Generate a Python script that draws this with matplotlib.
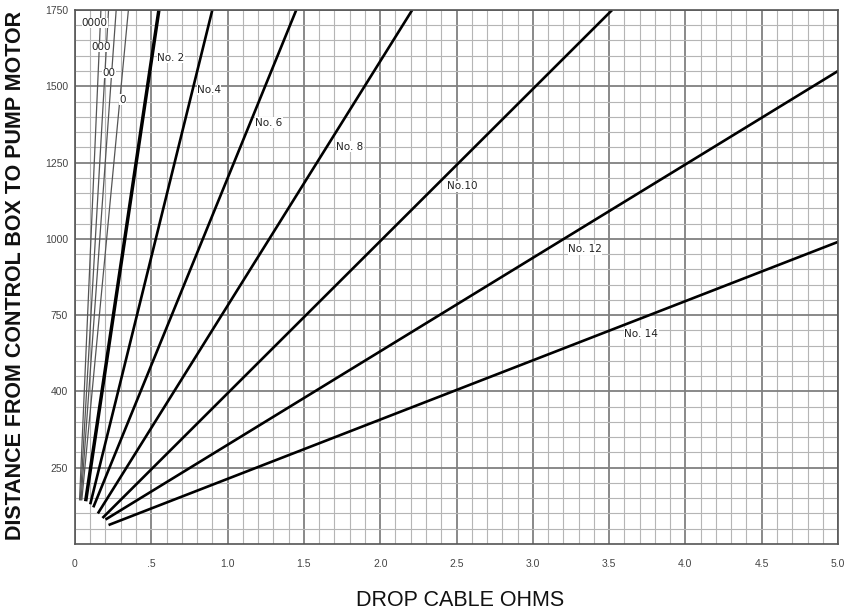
import numpy as np
import matplotlib
matplotlib.use('Agg')
import matplotlib.pyplot as plt
from matplotlib.ticker import MultipleLocator

# wire sizes, start and end points (ohms, feet)
wires = ['0000', '000', '00', '0', 'No. 2', 'No.4', 'No. 6', 'No. 8', 'No.10', 'No. 12', 'No. 14']
x0 = [0.03, 0.035, 0.04, 0.045, 0.07, 0.10, 0.12, 0.15, 0.18, 0.20, 0.22]
y0 = [145, 145, 145, 145, 140, 130, 120, 100, 85, 80, 62]
x1 = [0.17, 0.22, 0.27, 0.35, 0.55, 0.90, 1.45, 2.21, 3.52, 5.0, 5.0]
y1 = [1750, 1750, 1750, 1750, 1750, 1750, 1750, 1750, 1750, 1550, 990]
heavy = [False, False, False, False, True, True, True, True, True, True, True]

# label positions (left edge, centre height)
lab_x = [0.045, 0.11, 0.18, 0.29, 0.54, 0.80, 1.18, 1.71, 2.44, 3.23, 3.60]
lab_y = [1707, 1629, 1544, 1456, 1593, 1488, 1381, 1302, 1172, 966, 689]

xticks = [0, 0.5, 1.0, 1.5, 2.0, 2.5, 3.0, 3.5, 4.0, 4.5, 5.0]
xticklabels = ['0', '.5', '1.0', '1.5', '2.0', '2.5', '3.0', '3.5', '4.0', '4.5', '5.0']
yticks = [250, 500, 750, 1000, 1250, 1500, 1750]
yticklabels = ['250', '400', '750', '1000', '1250', '1500', '1750']

plt.rcParams['font.family'] = ['Liberation Sans', 'DejaVu Sans']

fig = plt.figure(figsize=(8.52, 6.11), dpi=100)
ax = fig.add_axes([0.088, 0.1097, 0.8956, 0.874])

ax.set_xlim(0, 5.0)
ax.set_ylim(0, 1750)
ax.xaxis.set_major_locator(MultipleLocator(0.5))
ax.xaxis.set_minor_locator(MultipleLocator(0.1))
ax.yaxis.set_major_locator(MultipleLocator(250))
ax.yaxis.set_minor_locator(MultipleLocator(50))
ax.grid(which='major', color='#808080', lw=1.3)
ax.grid(which='minor', color='#b5b5b5', lw=0.8)
ax.set_axisbelow(True)

for i in range(len(wires)):
	if heavy[i]:
		lw = 2.5 if wires[i] == 'No. 2' else 1.9
		ax.plot([x0[i], x1[i]], [y0[i], y1[i]], color='black', lw=lw, solid_capstyle='butt')
	else:
		ax.plot([x0[i], x1[i]], [y0[i], y1[i]], color='#555555', lw=0.9)
	ax.text(lab_x[i], lab_y[i], wires[i], fontsize=7.5, family='DejaVu Sans', color='#222222',
		va='center', ha='left', bbox=dict(facecolor='white', edgecolor='none', pad=0.2))

ax.set_xticks(xticks)
ax.set_xticklabels(xticklabels)
ax.set_yticks(yticks)
ax.set_yticklabels(yticklabels)
ax.tick_params(which='both', length=0, labelsize=7.5, labelcolor='#444444')
ax.tick_params(axis='x', pad=11)
ax.tick_params(axis='y', pad=5)
for s in ax.spines.values():
	s.set_color('#555555')
	s.set_linewidth(1.2)

ax.set_xlabel('DROP CABLE OHMS', fontsize=15.5, color='#111111')
ax.xaxis.set_label_coords(0.505, -0.086)
ax.set_ylabel('DISTANCE FROM CONTROL BOX TO PUMP MOTOR', fontsize=15.5, fontweight='bold', color='#111111')
ax.yaxis.set_label_coords(-0.064, 0.502)

plt.savefig('out.png', dpi=100)
